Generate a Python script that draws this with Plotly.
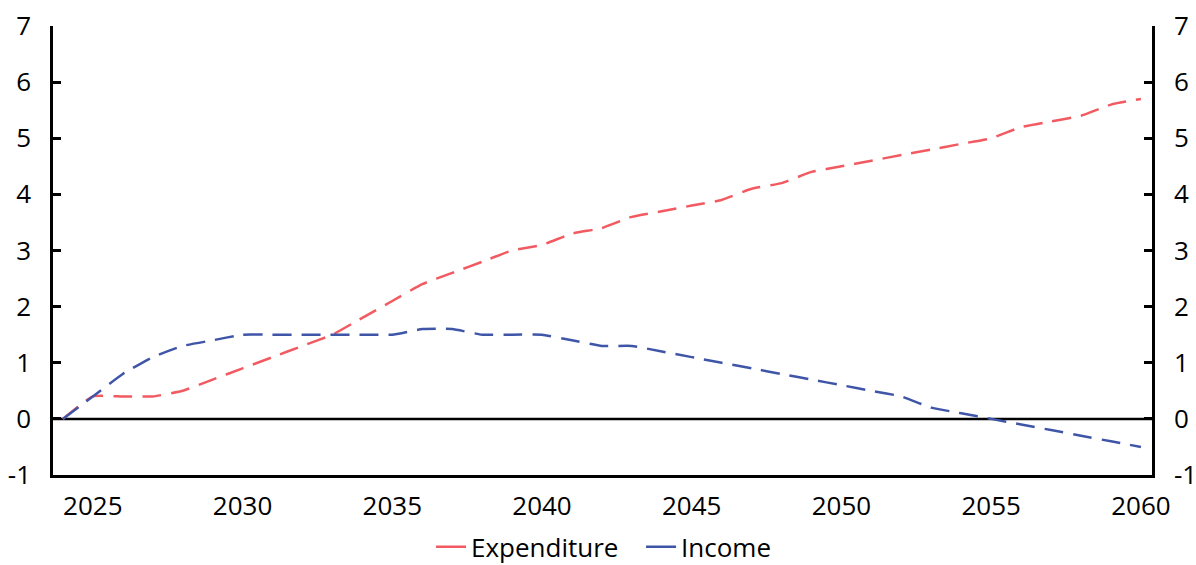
import plotly.graph_objects as go

years = list(range(2024, 2061))
expenditure = [0.0, 0.4, 0.4, 0.4, 0.5, 0.7, 0.9, 1.1, 1.3, 1.5, 1.8, 2.1, 2.4,
               2.6, 2.8, 3.0, 3.1, 3.3, 3.4, 3.6, 3.7, 3.8, 3.9, 4.1, 4.2, 4.4,
               4.5, 4.6, 4.7, 4.8, 4.9, 5.0, 5.2, 5.3, 5.4, 5.6, 5.7]
income = [0.0, 0.4, 0.8, 1.1, 1.3, 1.4, 1.5, 1.5, 1.5, 1.5, 1.5, 1.5, 1.6,
          1.6, 1.5, 1.5, 1.5, 1.4, 1.3, 1.3, 1.2, 1.1, 1.0, 0.9, 0.8, 0.7,
          0.6, 0.5, 0.4, 0.2, 0.1, 0.0, -0.1, -0.2, -0.3, -0.4, -0.5]
x_ticks = [2025, 2030, 2035, 2040, 2045, 2050, 2055, 2060]
y_ticks = [-1, 0, 1, 2, 3, 4, 5, 6, 7]
y_tick_text = ["-1", "0", "1", "2", "3", "4", "5", "6", "7"]

RED = "#F25A61"
BLUE = "#3F55A8"
FONT = "Open Sans"
SIZE = 26
DASH = "19px,10px"
X_RANGE = [2023.67, 2060.37]

fig = go.Figure()

# zero reference line
fig.add_trace(go.Scatter(x=X_RANGE, y=[0, 0], mode="lines",
                         line=dict(color="black", width=2.5),
                         showlegend=False, hoverinfo="skip"))

fig.add_trace(go.Scatter(x=years, y=expenditure, mode="lines",
                         line=dict(color=RED, width=2.5, dash=DASH,
                                   shape="spline", smoothing=0.4),
                         showlegend=False))
fig.add_trace(go.Scatter(x=years, y=income, mode="lines",
                         line=dict(color=BLUE, width=2.5, dash=DASH,
                                   shape="spline", smoothing=0.4),
                         showlegend=False))

# solid legend keys
fig.add_trace(go.Scatter(x=[None], y=[None], mode="lines", name="Expenditure",
                         line=dict(color=RED, width=2.5)))
fig.add_trace(go.Scatter(x=[None], y=[None], mode="lines", name="Income",
                         line=dict(color=BLUE, width=2.5)))

# invisible trace to carry the right-hand axis
fig.add_trace(go.Scatter(x=[2024], y=[0], yaxis="y2", mode="lines",
                         line=dict(width=0), showlegend=False, hoverinfo="skip"))

yaxis_common = dict(range=[-1, 7], tickvals=y_ticks, ticktext=y_tick_text,
                    showgrid=False, zeroline=False, showline=True,
                    linecolor="black", linewidth=2.5, ticks="inside", ticklen=8,
                    tickwidth=2.5, tickcolor="black", ticklabelstandoff=14,
                    tickfont=dict(family=FONT, size=SIZE, color="black"))

fig.update_layout(
    width=1196, height=565,
    margin=dict(l=53, r=44, t=26, b=90, autoexpand=False),
    plot_bgcolor="white", paper_bgcolor="white",
    xaxis=dict(range=X_RANGE, tickvals=x_ticks, showgrid=False,
               zeroline=False, showline=True, linecolor="black", linewidth=2.5,
               ticks="", ticklabelstandoff=6,
               tickfont=dict(family=FONT, size=SIZE, color="black")),
    yaxis=dict(side="left", **yaxis_common),
    yaxis2=dict(side="right", overlaying="y", **yaxis_common),
    legend=dict(orientation="h", x=0.536, xanchor="center", xref="container",
                y=0.032, yanchor="middle", yref="container",
                font=dict(family=FONT, size=SIZE, color="black"),
                itemwidth=30, entrywidth=165, entrywidthmode="pixels"),
    showlegend=True,
)

fig.write_html("out.html")
